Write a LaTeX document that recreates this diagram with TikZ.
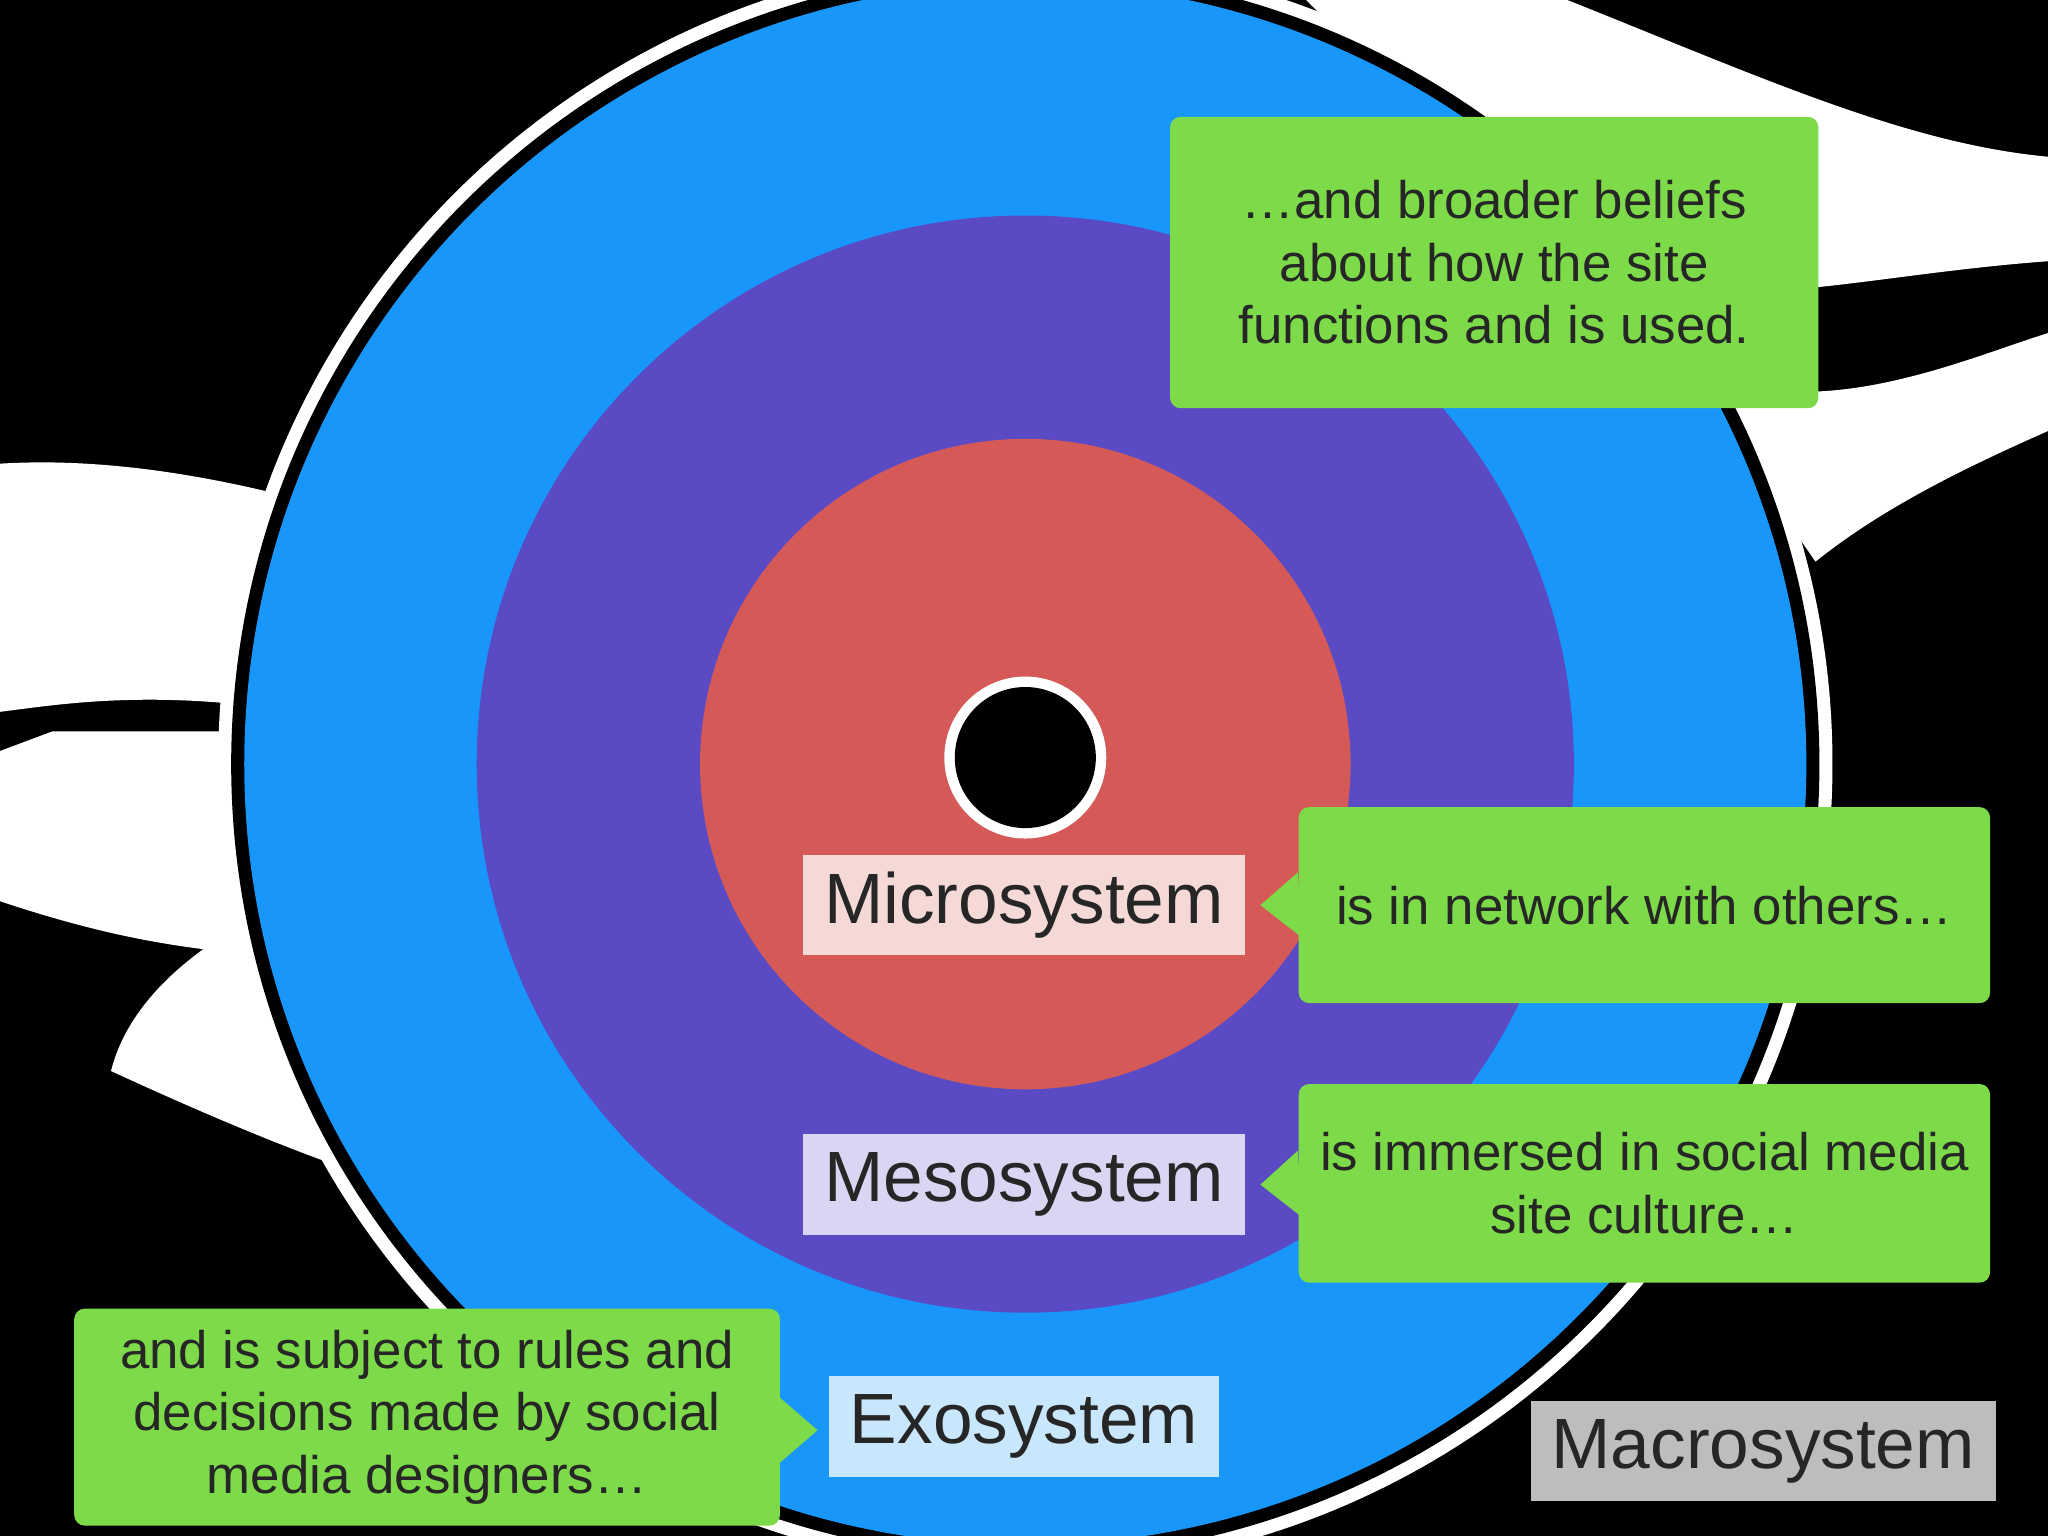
\documentclass[tikz,border=0pt]{standalone}
\usepackage{fontspec}
\setmainfont{Liberation Sans}
\definecolor{bgreen}{HTML}{7DDB4A}
\definecolor{bblue}{HTML}{1896FA}
\definecolor{bpurple}{HTML}{5A4BC4}
\definecolor{bred}{HTML}{D55A57}
\tikzset{
  lab/.style={inner sep=0pt, minimum height=0.77cm, font=\fontsize{15.5}{18}\selectfont, text=black!85},
  note/.style={fill=bgreen, rounded corners=0.08cm, align=center, inner sep=0pt, font=\fontsize{11.5}{13.6}\selectfont, text=black!85}
}
\begin{document}
\begin{tikzpicture}[x=0.01cm,y=-0.01cm]
\fill[black] (0,0) rectangle (1568,1176);
\useasboundingbox (0,0) rectangle (1568,1176);
% white bird silhouette (approx.)
\fill[white] (1000,0) -- (1200,0) .. controls (1350,60) and (1460,110) .. (1568,120) -- (1568,200) .. controls (1500,205) and (1440,215) .. (1390,220) -- (1380,300) .. controls (1450,300) and (1520,270) .. (1568,255) -- (1568,330) .. controls (1500,360) and (1440,390) .. (1390,430) -- (1300,300) -- cycle;
\fill[white] (0,355) .. controls (80,350) and (160,365) .. (220,380) -- (200,700) .. controls (160,720) and (100,760) .. (85,820) .. controls (150,850) and (220,880) .. (280,900) -- (200,560) -- (40,560) -- (0,575) -- (0,690) .. controls (60,710) and (120,725) .. (190,730) -- (190,540) .. controls (100,530) and (40,540) .. (0,545) -- cycle;
\fill[white] (785,585) circle (618);
\fill[black] (785,585) circle (608);
\fill[bblue] (785,585) circle (598);
\fill[bpurple] (785,585) circle (420);
\fill[bred] (785,585) circle (249);
\fill[white] (785,580) circle (62);
\fill[black] (785,580) circle (54);
% labels
\node[lab, fill={rgb,255:red,245;green,217;blue,214}, minimum width=3.38cm] (micro) at (784,693) {Microsystem};
\node[lab, fill={rgb,255:red,217;green,213;blue,242}, minimum width=3.38cm] (meso) at (784,907) {Mesosystem};
\node[lab, fill={rgb,255:red,200;green,230;blue,252}, minimum width=2.98cm] (exo) at (784,1092) {Exosystem};
\node[lab, fill={rgb,255:red,189;green,189;blue,189}, minimum width=3.56cm] (macro) at (1350,1111) {Macrosystem};
% callouts
\node[note, minimum width=4.96cm, minimum height=2.23cm] (n1) at (1144,201) {…and broader beliefs\\about how the site\\functions and is used.};
\node[note, minimum width=5.29cm, minimum height=1.5cm] (n2) at (1259,693) {is in network with others…};
\node[note, minimum width=5.29cm, minimum height=1.52cm] (n3) at (1259,906) {is immersed in social media\\site culture…};
\node[note, minimum width=5.4cm, minimum height=1.66cm] (n4) at (327,1085) {and is subject to rules and\\decisions made by social\\media designers…};
\coordinate (p2) at (965,693);
\coordinate (p3) at (965,907);
\coordinate (p4) at (626,1095);
\fill[bgreen] (n2.west)++(0,-25) -- (p2) -- ++(32,25) -- cycle;
\fill[bgreen] (n3.west)++(0,-25) -- (p3) -- ++(32,25) -- cycle;
\fill[bgreen] (597,1070) -- (p4) -- (597,1120) -- cycle;
\end{tikzpicture}
\end{document}
